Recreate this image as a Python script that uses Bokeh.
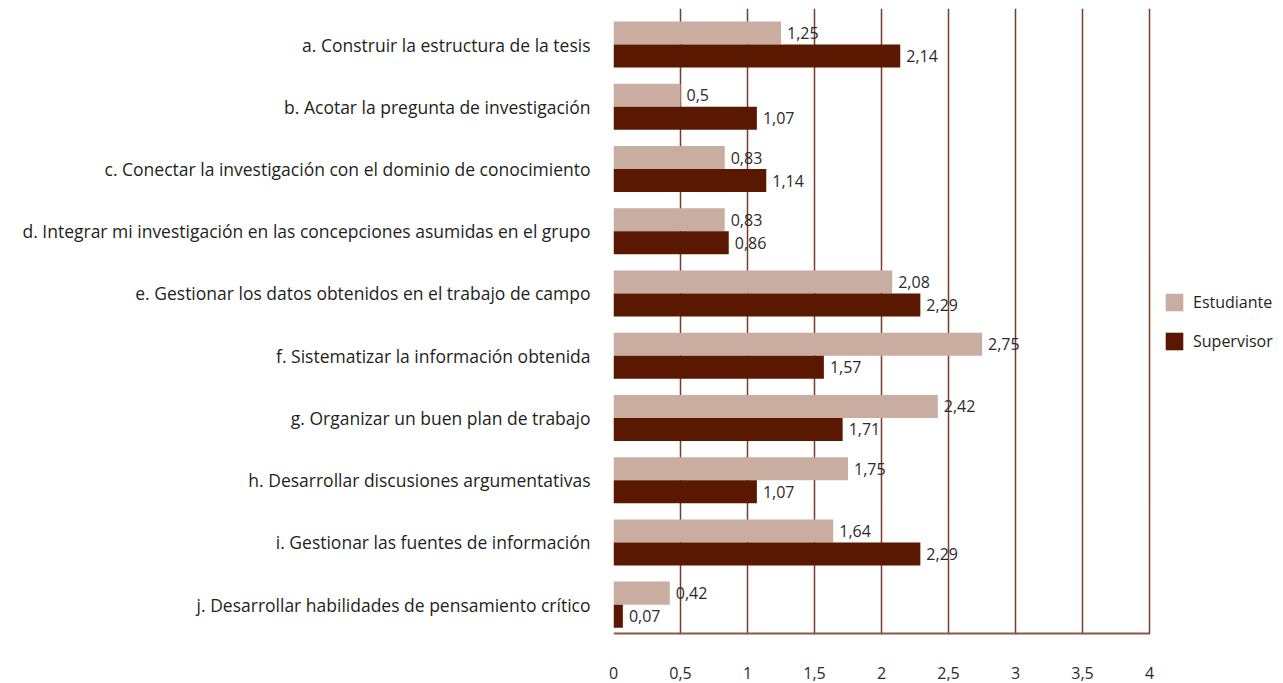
from bokeh.plotting import figure
from bokeh.models import ColumnDataSource, FixedTicker, Legend, LegendItem, Range1d
from bokeh.core.properties import value
from bokeh.embed import file_html
from bokeh.resources import INLINE

categories = [
    "a. Construir la estructura de la tesis",
    "b. Acotar la pregunta de investigación",
    "c. Conectar la investigación con el dominio de conocimiento",
    "d. Integrar mi investigación en las concepciones asumidas en el grupo",
    "e. Gestionar los datos obtenidos en el trabajo de campo",
    "f. Sistematizar la información obtenida",
    "g. Organizar un buen plan de trabajo",
    "h. Desarrollar discusiones argumentativas",
    "i. Gestionar las fuentes de información",
    "j. Desarrollar habilidades de pensamiento crítico",
]
estudiante = [1.25, 0.5, 0.83, 0.83, 2.08, 2.75, 2.42, 1.75, 1.64, 0.42]
supervisor = [2.14, 1.07, 1.14, 0.86, 2.29, 1.57, 1.71, 1.07, 2.29, 0.07]
series_names = ["Estudiante", "Supervisor"]
x_ticks = [0, 0.5, 1, 1.5, 2, 2.5, 3, 3.5, 4]
x_tick_labels = ["0", "0,5", "1", "1,5", "2", "2,5", "3", "3,5", "4"]

C_EST = "#c9ada0"
C_SUP = "#5a1800"
GRID = "#7a3a2c"
FONT = "Open Sans"

def fmt(v):
    return f"{v:g}".replace(".", ",")

idx = list(range(len(categories)))
off = 0.185
h = 0.37
Y_TOP, Y_BOT = -0.58, 9.48
X_MAX = 4

src_e = ColumnDataSource(dict(y=[i - off for i in idx], x=estudiante,
                              lab=[fmt(v) for v in estudiante]))
src_s = ColumnDataSource(dict(y=[i + off for i in idx], x=supervisor,
                              lab=[fmt(v) for v in supervisor]))

p = figure(width=1283, height=683, output_backend="svg", toolbar_location=None,
           x_range=Range1d(0, 5.0), y_range=Range1d(Y_BOT, Y_TOP),
           min_border_left=613, min_border_right=0, min_border_top=8,
           min_border_bottom=49)
p.outline_line_color = None

r_e = p.hbar(y="y", right="x", left=0, height=h, source=src_e, color=C_EST, line_color=None)
r_s = p.hbar(y="y", right="x", left=0, height=h, source=src_s, color=C_SUP, line_color=None)

for src in (src_e, src_s):
    p.text(x="x", y="y", text="lab", source=src, x_offset=6, text_baseline="middle",
           text_align="left", text_font=value(FONT), text_font_size="16px",
           text_color="#2b2b2b")

# bottom baseline from 0 to 4
p.segment(x0=[0], x1=[X_MAX], y0=[Y_BOT], y1=[Y_BOT], line_color="#8a5648", line_width=4)

# x axis
xa = p.xaxis[0]
xa.ticker = FixedTicker(ticks=x_ticks)
xa.major_label_overrides = {t: l for t, l in zip(x_ticks, x_tick_labels)}
xa.major_tick_line_color = None
xa.minor_tick_line_color = None
xa.axis_line_color = None
xa.major_label_standoff = 26
xa.major_label_text_font = FONT
xa.major_label_text_font_size = "16px"
xa.major_label_text_color = "#2b2b2b"

ya = p.yaxis[0]
ya.ticker = FixedTicker(ticks=idx)
ya.major_label_overrides = {i: c for i, c in zip(idx, categories)}
ya.major_tick_line_color = None
ya.minor_tick_line_color = None
ya.axis_line_color = None
ya.major_label_standoff = 17
ya.major_label_text_font = FONT
ya.major_label_text_font_size = "17.5px"
ya.major_label_text_color = "#231f20"

p.xgrid.ticker = FixedTicker(ticks=x_ticks)
p.xgrid.grid_line_color = GRID
p.xgrid.grid_line_width = 1.5
p.ygrid.grid_line_color = None

legend = Legend(items=[LegendItem(label=series_names[0], renderers=[r_e]),
                       LegendItem(label=series_names[1], renderers=[r_s])],
                location=(550, 282), border_line_color=None, background_fill_alpha=0,
                glyph_width=22, glyph_height=22, spacing=17, label_standoff=8,
                padding=0, margin=0, label_text_font=FONT, label_text_font_size="16px",
                label_text_color="#231f20")
p.add_layout(legend)

open("out.html", "w").write(file_html(p, INLINE))
